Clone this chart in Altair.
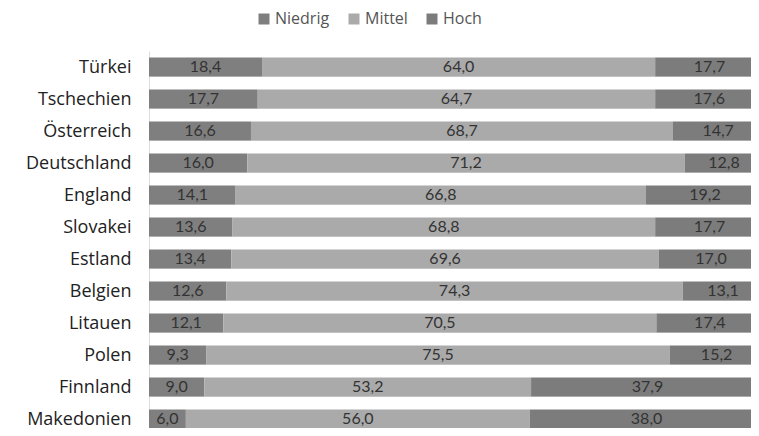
import altair as alt
import pandas as pd

countries = ["Türkei", "Tschechien", "Österreich", "Deutschland", "England", "Slovakei",
             "Estland", "Belgien", "Litauen", "Polen", "Finnland", "Makedonien"]
niedrig = [18.4, 17.7, 16.6, 16.0, 14.1, 13.6, 13.4, 12.6, 12.1, 9.3, 9.0, 6.0]
mittel = [64.0, 64.7, 68.7, 71.2, 66.8, 68.8, 69.6, 74.3, 70.5, 75.5, 53.2, 56.0]
hoch = [17.7, 17.6, 14.7, 12.8, 19.2, 17.7, 17.0, 13.1, 17.4, 15.2, 37.9, 38.0]
levels = ["Niedrig", "Mittel", "Hoch"]
colors = ["#7f7f7f", "#aaaaaa", "#7c7c7c"]

rows = []
for i, c in enumerate(countries):
    for j, (lev, vals) in enumerate(zip(levels, [niedrig, mittel, hoch])):
        rows.append({"country": c, "level": lev, "order": j, "value": vals[i]})
df = pd.DataFrame(rows)

base = alt.Chart(df).transform_stack(
    stack="value", groupby=["country"], sort=[alt.SortField("order")], as_=["x0", "x1"]
).transform_calculate(
    mid="(datum.x0 + datum.x1) / 2",
    label="replace(format(datum.value, '.1f'), '.', ',')",
)

yenc = alt.Y(
    "country:N", sort=countries, title=None,
    scale=alt.Scale(range=[0, 384], paddingInner=0.41, paddingOuter=0.205),
    axis=alt.Axis(
        tickBand="extent", grid=True, gridColor="#dddddd", gridWidth=1,
        ticks=False, domain=True, domainColor="#dddddd",
        labelFont="Open Sans", labelFontSize=18, labelColor="#222222", labelPadding=18,
    ),
)

bars = base.mark_bar(clip=True).encode(
    x=alt.X("x0:Q", scale=alt.Scale(domain=[0, 98], nice=False), axis=None),
    x2="x1:Q",
    y=yenc,
    color=alt.Color(
        "level:N",
        scale=alt.Scale(domain=levels, range=colors),
        legend=alt.Legend(
            title=None, orient="none", direction="horizontal", legendX=107, legendY=-40,
            symbolType="square", symbolSize=121, symbolStrokeWidth=0, symbolOpacity=1,
            labelFont="Open Sans", labelFontSize=16, labelColor="#555555",
            columnPadding=16, labelOffset=3,
        ),
    ),
)

texts = base.mark_text(font="Lato", fontSize=16, color="#333333", clip=True).encode(
    x=alt.X("mid:Q", scale=alt.Scale(domain=[0, 98], nice=False), axis=None),
    y=alt.Y("country:N", sort=countries),
    text="label:N",
)

chart = alt.layer(bars, texts).properties(
    width=602, height=377,
    autosize=alt.AutoSizeParams(type="none"),
    padding={"left": 141, "top": 43, "right": 0, "bottom": 0},
).configure_view(stroke=None)

chart.save("out.html", embed_options={"renderer": "svg", "actions": False})
